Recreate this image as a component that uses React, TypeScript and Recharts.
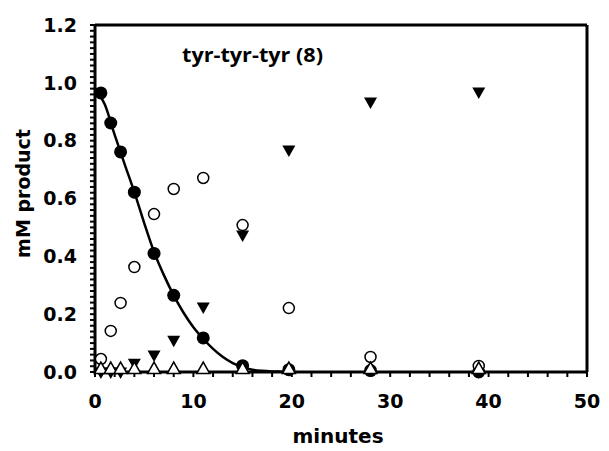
import {
  ComposedChart,
  Customized,
  Label,
  Line,
  ReferenceLine,
  Scatter,
  XAxis,
  YAxis,
} from "recharts";

// sampling times (minutes)
const times = [0.6, 1.6, 2.6, 4, 6, 8, 11, 15, 19.7, 28, 39];

// mM product per species
const filledCircle = [0.965, 0.861, 0.761, 0.622, 0.41, 0.265, 0.118, 0.022, 0.008, 0.005, 0.0];
const openCircle = [0.045, 0.142, 0.239, 0.363, 0.546, 0.633, 0.671, 0.508, 0.221, 0.052, 0.021];
const filledDown = [0.0, 0.0, 0.0, 0.03, 0.059, 0.11, 0.225, 0.474, 0.768, 0.934, 0.968];
const openUp = [0.01, 0.01, 0.01, 0.01, 0.01, 0.01, 0.01, 0.01, 0.01, 0.01, 0.01];

// fitted decay curve for the filled circles
const fitTimes = [0, 1, 2, 3, 4, 5, 6, 7, 8, 9, 10, 11, 12, 13, 14, 15, 16, 17, 18, 19, 20];
const fitValues = [
  0.982, 0.925, 0.82, 0.72, 0.622, 0.515, 0.415, 0.335, 0.265, 0.205, 0.155,
  0.115, 0.08, 0.052, 0.031, 0.017, 0.008, 0.004, 0.002, 0.001, 0.0,
];

const xTicks = [0, 2, 4, 6, 8, 10, 12, 14, 16, 18, 20, 22, 24, 26, 28, 30, 32, 34, 36, 38, 40, 42, 44, 46, 48, 50];
const xLabels = [0, 10, 20, 30, 40, 50];
const yTicks = Array.from({ length: 61 }, (_, i) => Math.round(i * 2) / 100);
const yLabels = ["0.0", "0.2", "0.4", "0.6", "0.8", "1.0", "1.2"];

const pts = (vals: number[]) => times.map((x, i) => ({ x, y: vals[i] }));
const fit = fitTimes.map((x, i) => ({ x, y: fitValues[i] }));

const tickFont = {
  fontFamily: "DejaVu Sans",
  fontWeight: "bold",
  fontSize: 19,
  fill: "#000",
};

const FilledDot = ({ cx, cy }: any) => <circle cx={cx} cy={cy} r={6.5} fill="#000" />;
const OpenDot = ({ cx, cy }: any) => (
  <circle cx={cx} cy={cy} r={5.5} fill="#fff" stroke="#000" strokeWidth={1.5} />
);
const DownTri = ({ cx, cy }: any) => (
  <polygon
    points={`${cx - 6.5},${cy - 4.5} ${cx + 6.5},${cy - 4.5} ${cx},${cy + 7}`}
    fill="#000"
  />
);
const UpTri = ({ cx, cy }: any) => (
  <polygon
    points={`${cx - 6.5},${cy + 4.5} ${cx + 6.5},${cy + 4.5} ${cx},${cy - 7}`}
    fill="#fff"
    stroke="#000"
    strokeWidth={1.5}
  />
);

const Title = () => (
  <text
    x={182}
    y={62}
    fontFamily="Open Sans"
    fontWeight="bold"
    fontSize={19}
    textLength={141}
    lengthAdjust="spacingAndGlyphs"
    fill="#000"
  >
    tyr-tyr-tyr (8)
  </text>
);

const App = () => {
  return (
    <div style={{ position: "absolute", left: 0, top: 0 }}>
      <ComposedChart
        width={609}
        height={451}
        margin={{ top: 25, right: 22, bottom: 0, left: 0 }}
      >
        <XAxis
          dataKey="x"
          type="number"
          domain={[0, 50]}
          ticks={xTicks}
          interval={0}
          height={79}
          axisLine={{ stroke: "#000", strokeWidth: 3 }}
          tickLine={{ stroke: "#000", strokeWidth: 2 }}
          tickSize={5}
          tickMargin={18}
          tick={tickFont}
          tickFormatter={(v: number) => (xLabels.includes(v) ? String(v) : "")}
        >
          <Label
            content={({ viewBox }: any) => (
              <text
                x={viewBox.x + viewBox.width / 2 - 3}
                y={viewBox.y + 71}
                textAnchor="middle"
                fontFamily="DejaVu Sans"
                fontWeight="bold"
                fontSize={20}
                fill="#000"
              >
                minutes
              </text>
            )}
          />
        </XAxis>
        <YAxis
          dataKey="y"
          type="number"
          domain={[0, 1.2]}
          ticks={yTicks}
          interval={0}
          width={95}
          axisLine={{ stroke: "#000", strokeWidth: 3 }}
          tickLine={{ stroke: "#000", strokeWidth: 2 }}
          tickSize={5}
          tickMargin={13}
          tick={tickFont}
          tickFormatter={(v: number) => {
            const k = Math.round(v * 5);
            return Math.abs(v * 5 - k) < 1e-6 ? yLabels[k] : "";
          }}
        >
          <Label
            content={({ viewBox }: any) => (
              <text
                x={23}
                y={viewBox.y + viewBox.height / 2 - 5}
                transform={`rotate(-90, 23, ${viewBox.y + viewBox.height / 2 - 5})`}
                textAnchor="middle"
                dominantBaseline="central"
                fontFamily="DejaVu Sans"
                fontWeight="bold"
                fontSize={19}
                fill="#000"
              >
                mM product
              </text>
            )}
          />
        </YAxis>
        <ReferenceLine y={1.2} stroke="#000" strokeWidth={3} />
        <ReferenceLine x={50} stroke="#000" strokeWidth={3} />
        <Line
          data={fit}
          dataKey="y"
          type="monotone"
          stroke="#000"
          strokeWidth={2.5}
          dot={false}
          activeDot={false}
          isAnimationActive={false}
        />
        <Scatter data={pts(filledCircle)} dataKey="y" shape={FilledDot} isAnimationActive={false} />
        <Scatter data={pts(openCircle)} dataKey="y" shape={OpenDot} isAnimationActive={false} />
        <Scatter data={pts(filledDown)} dataKey="y" shape={DownTri} isAnimationActive={false} />
        <Scatter data={pts(openUp)} dataKey="y" shape={UpTri} isAnimationActive={false} />
        <Customized component={Title} />
      </ComposedChart>
    </div>
  );
};

export default App;
